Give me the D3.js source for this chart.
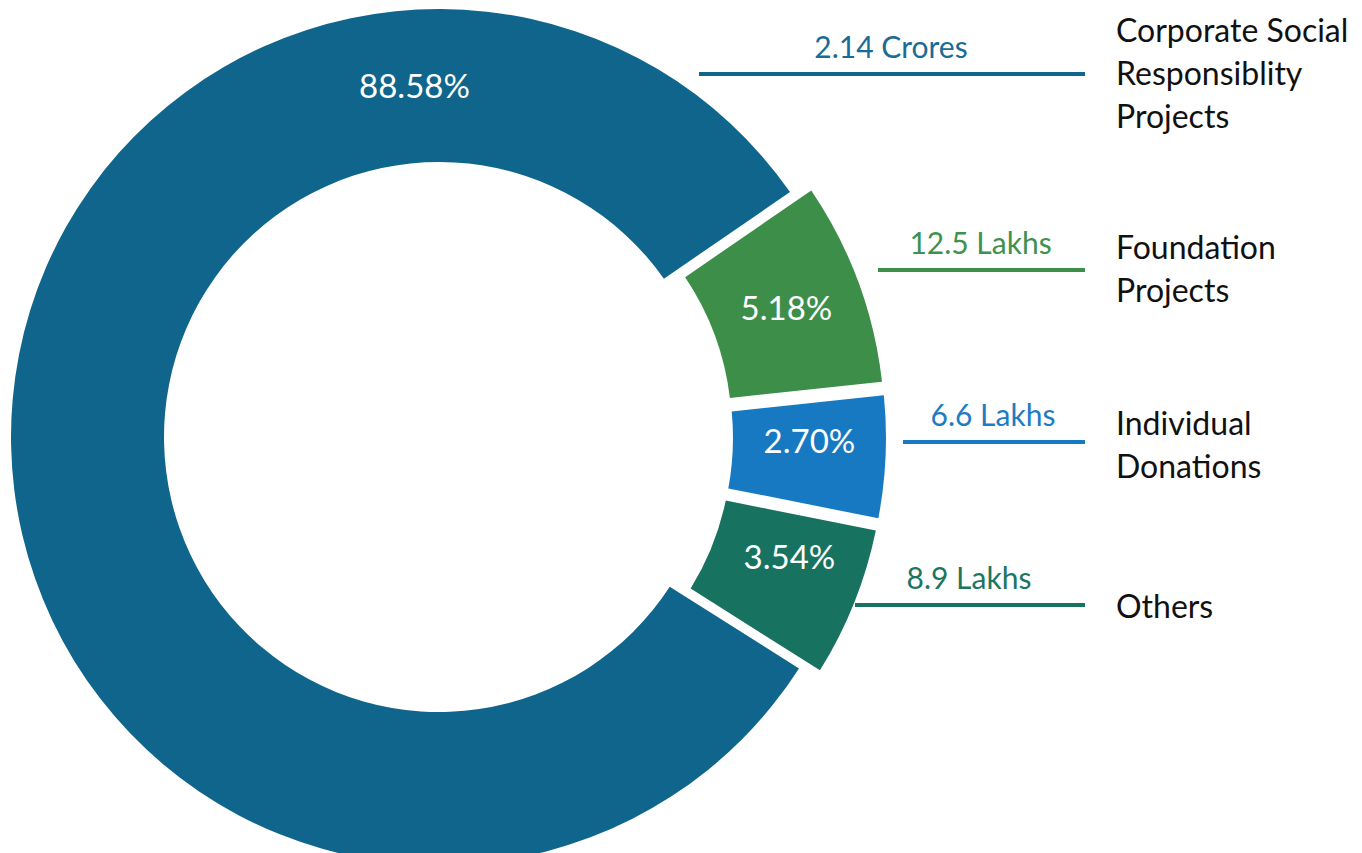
<!DOCTYPE html>
<html>
<head>
<meta charset="utf-8">
<script src="https://cdn.jsdelivr.net/npm/d3@7"></script>
<style>
  html, body { margin: 0; padding: 0; background: #ffffff; }
  svg { display: block; }
  text { font-family: Lato, "Open Sans", sans-serif; }
</style>
</head>
<body>
<svg id="chart" width="1362" height="853"></svg>
<script>
// ---------- data ----------
const categories = ["Corporate Social Responsiblity Projects", "Foundation Projects", "Individual Donations", "Others"];
const categoryLines = [["Corporate Social", "Responsiblity", "Projects"], ["Foundation", "Projects"], ["Individual", "Donations"], ["Others"]];
const shares = [88.58, 5.18, 2.70, 3.54];
const shareLabels = ["88.58%", "5.18%", "2.70%", "3.54%"];
const amounts = ["2.14 Crores", "12.5 Lakhs", "6.6 Lakhs", "8.9 Lakhs"];

// ---------- style / layout ----------
const colors = ["#0f658c", "#3c8e49", "#1679c1", "#17735f"];
const amountColors = ["#1b6b94", "#3f9150", "#1e7cc2", "#1c7661"];
const cx = 439, cy = 437, rOuter = 428, rInner = 275;
const explode = 19;
const deg = Math.PI / 180;
const startDeg = 55.5;           // where the small slices begin (clockwise from 12 o'clock)
// small slices get a minimum sweep plus a proportional part; main slice takes the rest
const sweep = d3.scaleLinear().domain([0, 6]).range([5.4, 32.0]);
const labelShiftDeg = [0, 0, -2, -3];
const rowY = [74, 270, 442, 605];          // leader line y per category
const lineX0 = [699, 878, 903, 855];       // leader line start x
const lineX1 = 1085;
const catX = 1116;
const catLineH = 43;
const catTopY = [30, 247, 423, 606];

const svg = d3.select("#chart");
const g = svg.append("g").attr("transform", `translate(${cx},${cy})`);

// compute slice angles
const slices = [];
let a = startDeg;
for (let i = 1; i < shares.length; i++) {
  const s = sweep(shares[i]);
  slices.push({ i, start: a * deg, end: (a + s) * deg });
  a += s;
}
slices.unshift({ i: 0, start: a * deg, end: (startDeg + 360) * deg });

const arc = d3.arc()
  .innerRadius(rInner)
  .outerRadius(rOuter)
  .padAngle(0.012);

const sliceG = g.selectAll("g.slice")
  .data(slices)
  .join("g")
  .attr("class", "slice")
  .attr("transform", d => {
    if (d.i === 0) return null;
    const m = (d.start + d.end) / 2;
    return `translate(${explode * Math.sin(m)},${-explode * Math.cos(m)})`;
  });

sliceG.append("path")
  .attr("d", d => arc({ startAngle: d.start, endAngle: d.end }))
  .attr("fill", d => colors[d.i]);

const rMid = (rInner + rOuter) / 2;
const mainLabelAngle = -4 * deg;
const labelAngle = d => d.i === 0 ? mainLabelAngle : (d.start + d.end) / 2 + labelShiftDeg[d.i] * deg;
sliceG.append("text")
  .attr("x", d => rMid * Math.sin(labelAngle(d)))
  .attr("y", d => -rMid * Math.cos(labelAngle(d)))
  .attr("text-anchor", "middle")
  .attr("dy", "0.36em")
  .attr("fill", "#ffffff")
  .attr("font-size", 33)
  .text(d => shareLabels[d.i]);

// ---------- leader lines, amounts and category labels ----------
const rows = svg.selectAll("g.row")
  .data(categories.map((c, i) => i))
  .join("g")
  .attr("class", "row");

rows.append("line")
  .attr("x1", i => lineX0[i])
  .attr("x2", lineX1)
  .attr("y1", i => rowY[i])
  .attr("y2", i => rowY[i])
  .attr("stroke", i => colors[i])
  .attr("stroke-width", 4);

rows.append("text")
  .attr("x", i => (lineX0[i] + lineX1) / 2 + (i === 0 ? -1 : -1))
  .attr("y", i => rowY[i] - 27)
  .attr("dy", "0.36em")
  .attr("text-anchor", "middle")
  .attr("fill", i => amountColors[i])
  .attr("font-size", 30)
  .text(i => amounts[i]);

rows.each(function (i) {
  const t = d3.select(this).append("text")
    .attr("x", catX)
    .attr("fill", "#111111")
    .attr("font-size", 32);
  categoryLines[i].forEach((ln, k) => {
    t.append("tspan")
      .attr("x", catX)
      .attr("y", catTopY[i] + k * catLineH)
      .attr("dy", "0.36em")
      .text(ln);
  });
});
</script>
</body>
</html>
